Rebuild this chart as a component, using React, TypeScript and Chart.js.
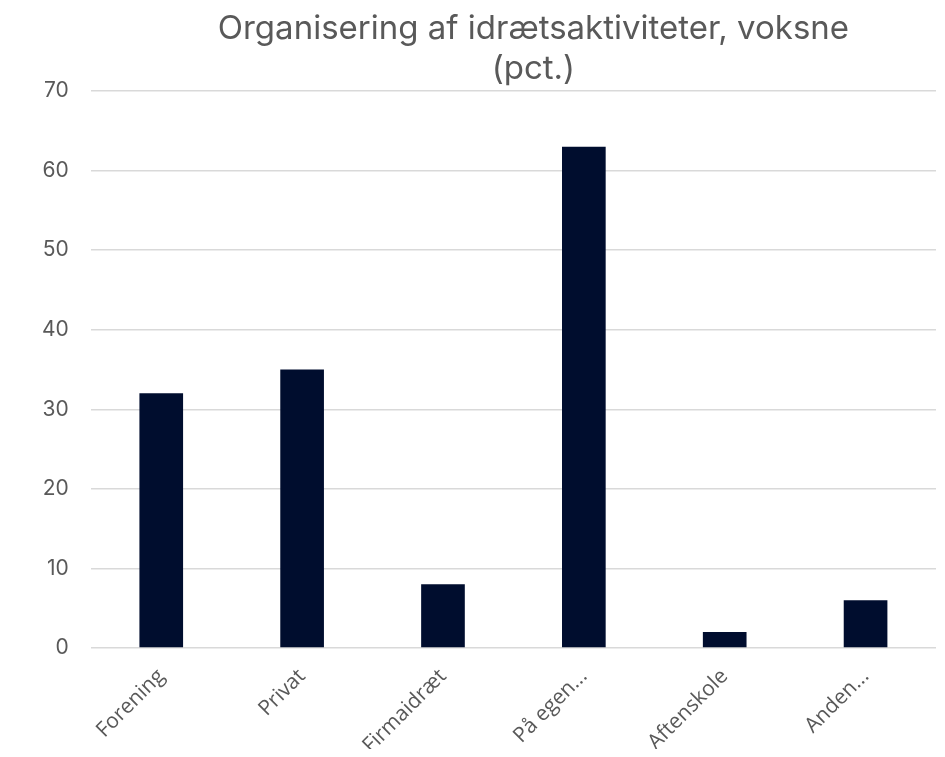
import React, { useEffect, useRef } from "react";
import { Chart, registerables } from "chart.js";

Chart.register(...registerables);

const titleLines = ["Organisering af idrætsaktiviteter, voksne", "(pct.)"];
const categories = ["Forening", "Privat", "Firmaidræt", "På egen...", "Aftenskole", "Anden..."];
const values = [32, 35, 8, 63, 2, 6];
const yMin = 0;
const yMax = 70;
const yStep = 10;

const TEXT = "#595959";

const titlePlugin = {
  id: "customTitle",
  afterDraw(chart: any) {
    const { ctx, chartArea } = chart;
    ctx.save();
    ctx.fillStyle = TEXT;
    ctx.font = "33px Inter, 'Open Sans', sans-serif";
    ctx.textAlign = "center";
    ctx.textBaseline = "middle";
    const cx = (chartArea.left + chartArea.right) / 2 + 20;
    titleLines.forEach((line, i) => {
      ctx.fillText(line, cx, 21 + i * 40);
    });
    ctx.restore();
  },
};

export default function App() {
  const ref = useRef<HTMLCanvasElement | null>(null);
  useEffect(() => {
    if (!ref.current) return;
    const chart = new Chart(ref.current, {
      type: "bar",
      data: {
        labels: categories,
        datasets: [
          {
            data: values,
            backgroundColor: "#000D2E",
            borderWidth: 0,
            barPercentage: 0.31,
            categoryPercentage: 1,
          },
        ],
      },
      options: {
        animation: false,
        responsive: true,
        maintainAspectRatio: false,
        layout: { padding: { top: 83, right: 1, left: 12, bottom: 0 } },
        plugins: {
          legend: { display: false },
          title: { display: false },
          tooltip: { enabled: false },
        },
        scales: {
          x: {
            grid: { display: false },
            border: { display: false },
            afterFit: (scale: any) => {
              scale.height = 101;
            },
            ticks: {
              color: TEXT,
              font: { family: "'Open Sans', sans-serif", size: 21 },
              minRotation: 45,
              maxRotation: 45,
              padding: 8,
            },
          },
          y: {
            min: yMin,
            max: yMax,
            border: { display: false },
            grid: { color: "#D9D9D9", lineWidth: 1.5, drawTicks: false },
            ticks: {
              stepSize: yStep,
              color: TEXT,
              padding: 22,
              font: { family: "Inter, 'Open Sans', sans-serif", size: 21 },
            },
          },
        },
      },
      plugins: [titlePlugin],
    });
    return () => chart.destroy();
  }, []);
  return (
    <div style={{ width: 929, height: 741, position: "relative" }}>
      <canvas ref={ref} />
    </div>
  );
}
